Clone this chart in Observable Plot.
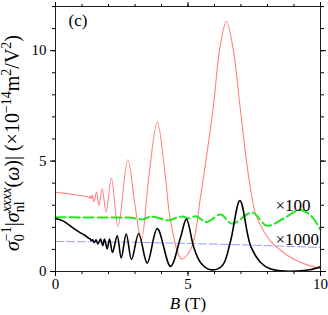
<!DOCTYPE html>
<html>
<head>
<meta charset="utf-8">
<script src="https://cdn.jsdelivr.net/npm/d3@7"></script>
<script src="https://cdn.jsdelivr.net/npm/@observablehq/plot@0.6"></script>
<style>
  html, body { margin: 0; padding: 0; background: white; }
  svg { display: block; }
</style>
</head>
<body>
<div id="chart"></div>
<script>
// ---- data ----
const redB = [0, 0.3, 0.6, 0.9, 1.1, 1.2, 1.26, 1.3, 1.34, 1.38, 1.45, 1.55, 1.64, 1.76, 1.91, 2.11, 2.36, 2.73, 3.0, 3.24, 3.52, 3.84, 4.15, 4.34, 4.76, 5.1, 5.28, 5.45, 5.6, 5.95, 6.2, 6.45, 6.7, 6.98, 7.29, 7.55, 7.8, 8.1, 8.5, 9.0, 9.5, 10];
const redV = [3.59, 3.55, 3.50, 3.45, 3.41, 3.39, 3.33, 3.42, 3.30, 3.46, 3.17, 3.60, 2.99, 3.75, 2.69, 4.22, 2.04, 5.06, 3.0, 1.42, 4.27, 6.77, 4.27, 2.3, 0.57, 1.0, 1.75, 3.2, 4.4, 7.4, 10.1, 11.33, 10.1, 7.3, 4.27, 2.6, 1.95, 1.4, 0.95, 0.55, 0.3, 0.14];

const blackB = [0, 0.3, 0.63, 0.9, 1.13, 1.26, 1.3, 1.35, 1.40, 1.46, 1.53, 1.60, 1.70, 1.78, 1.85, 1.95, 2.04, 2.15, 2.33, 2.48, 2.67, 2.87, 3.14, 3.46, 3.84, 4.34, 4.72, 4.94, 5.22, 5.47, 5.85, 6.29, 6.6, 6.96, 7.36, 7.74, 8.1, 8.5, 9.1, 9.6, 10];
const blackV = [2.40, 2.28, 2.0, 1.78, 1.62, 1.50, 1.49, 1.40, 1.44, 1.31, 1.43, 1.25, 1.47, 1.17, 1.47, 1.02, 1.47, 0.86, 1.62, 0.61, 1.70, 0.54, 1.72, 0.38, 1.94, 0.23, 1.55, 2.37, 1.09, 0.41, 0.08, 0.26, 1.35, 3.21, 1.17, 0.41, 0.12, 0.03, 0.02, 0.08, 0.21];

const greenB = [0, 1.0, 2.0, 2.8, 3.05, 3.3, 3.5, 3.7, 3.95, 4.25, 4.55, 4.8, 5.0, 5.3, 5.7, 6.23, 6.67, 7.42, 7.98, 8.6, 9.25, 9.7, 10];
const greenV = [2.46, 2.45, 2.44, 2.44, 2.40, 2.36, 2.46, 2.48, 2.40, 2.32, 2.42, 2.49, 2.40, 2.50, 2.24, 2.58, 2.16, 2.67, 2.07, 2.40, 2.79, 2.45, 1.88];

const blueB = [0, 3.2, 5, 7, 10];
const blueV = [1.36, 1.32, 1.27, 1.21, 1.09];

const xMinorTicks = [0, 1, 2, 3, 4, 5, 6, 7, 8, 9, 10];
const xMajorTicks = [0, 5, 10];
const yMinorTicks = [0, 1, 2, 3, 4, 5, 6, 7, 8, 9, 10, 11, 12];
const yMajorTicks = [0, 5, 10];

const panelLabel = "(c)";
const scaleLabels = ["×100", "×1000"];

// ---- build tables ----
const red = redB.map((b, i) => ({B: b, v: redV[i]}));
const black = blackB.map((b, i) => ({B: b, v: blackV[i]}));
const green = greenB.map((b, i) => ({B: b, v: greenV[i]}));
const blue = blueB.map((b, i) => ({B: b, v: blueV[i]}));

const font = "Liberation Serif";

const chart = Plot.plot({
  width: 328,
  height: 315,
  marginLeft: 55,
  marginRight: 8,
  marginTop: 6,
  marginBottom: 44,
  x: {domain: [0, 10]},
  y: {domain: [0, 12]},
  style: {fontFamily: font, fontSize: "15px", color: "black", background: "white", overflow: "visible"},
  marks: [
    Plot.line(blue, {x: "B", y: "v", stroke: "#9b9bff", strokeWidth: 1, strokeDasharray: "8,3"}),
    Plot.line(red, {x: "B", y: "v", stroke: "#ff8383", strokeWidth: 1.1, curve: "catmull-rom"}),
    Plot.line(green, {x: "B", y: "v", stroke: "#22e622", strokeWidth: 2, strokeDasharray: "10,4", curve: "catmull-rom"}),
    Plot.line(black, {x: "B", y: "v", stroke: "black", strokeWidth: 1.6, curve: "catmull-rom"}),
    Plot.frame({stroke: "#222", strokeWidth: 1}),
    Plot.axisX({ticks: xMinorTicks, tickSize: 3, text: null, label: null}),
    Plot.axisX({ticks: xMajorTicks, tickSize: 5, tickPadding: 2, label: null, tickFormat: d => String(d), fontSize: 15, fontFamily: font}),
    Plot.axisX({anchor: "top", ticks: xMinorTicks, tickSize: 3, text: null, label: null}),
    Plot.axisX({anchor: "top", ticks: xMajorTicks, tickSize: 5, text: null, label: null}),
    Plot.axisY({ticks: yMinorTicks, tickSize: 3, text: null, label: null}),
    Plot.axisY({ticks: yMajorTicks, tickSize: 5, tickPadding: 4, label: null, tickFormat: d => String(d), fontSize: 15, fontFamily: font}),
    Plot.axisY({anchor: "right", ticks: yMinorTicks, tickSize: 3, text: null, label: null}),
    Plot.axisY({anchor: "right", ticks: yMajorTicks, tickSize: 5, text: null, label: null}),
    Plot.text([panelLabel], {frameAnchor: "top-left", text: d => d, dx: 13, dy: 14, lineAnchor: "middle", textAnchor: "start", fontSize: 17, fontFamily: font}),
    Plot.text([scaleLabels[0]], {frameAnchor: "top-left", text: d => d, dx: 220, dy: 199, lineAnchor: "middle", textAnchor: "start", fontSize: 17, fontFamily: font}),
    Plot.text([scaleLabels[1]], {frameAnchor: "top-left", text: d => d, dx: 220, dy: 233, lineAnchor: "middle", textAnchor: "start", fontSize: 17, fontFamily: font})
  ]
});

document.getElementById("chart").appendChild(chart);

const svg = d3.select(chart);

// x label: B (T)
const xl = svg.append("text")
  .attr("x", 188).attr("y", 309)
  .attr("text-anchor", "middle")
  .attr("font-family", font).attr("font-size", 17).attr("fill", "black");
xl.append("tspan").attr("font-style", "italic").text("B");
xl.append("tspan").text(" (T)");

// y label
const big = 20, small = 14;
const yl = svg.append("text")
  .attr("transform", "translate(19,143) rotate(-90)")
  .attr("text-anchor", "middle")
  .attr("font-family", font).attr("font-size", big).attr("fill", "black");
yl.append("tspan").attr("font-style", "italic").text("σ");
yl.append("tspan").attr("font-size", small).attr("dy", 4.5).text("0");
yl.append("tspan").attr("font-size", small).attr("dx", -7).attr("dy", -12.5).text("−1");
yl.append("tspan").attr("font-size", big).attr("dy", 8).text("|");
yl.append("tspan").attr("font-style", "italic").text("σ");
yl.append("tspan").attr("font-size", small).attr("dy", 4.5).text("nl");
yl.append("tspan").attr("font-size", small).attr("font-style", "italic").attr("dx", -10.9).attr("dy", -12.5).text("xxxx");
yl.append("tspan").attr("font-size", big).attr("dy", 8).text("(");
yl.append("tspan").attr("font-style", "italic").text("ω");
yl.append("tspan").text(")| (×10");
yl.append("tspan").attr("font-size", small).attr("dy", -8).text("−14");
yl.append("tspan").attr("font-size", big).attr("dy", 8).text("m");
yl.append("tspan").attr("font-size", small).attr("dy", -8).text("2");
yl.append("tspan").attr("font-size", big).attr("dy", 8).text("/V");
yl.append("tspan").attr("font-size", small).attr("dy", -8).text("2");
yl.append("tspan").attr("font-size", big).attr("dy", 8).text(")");
</script>
</body>
</html>
